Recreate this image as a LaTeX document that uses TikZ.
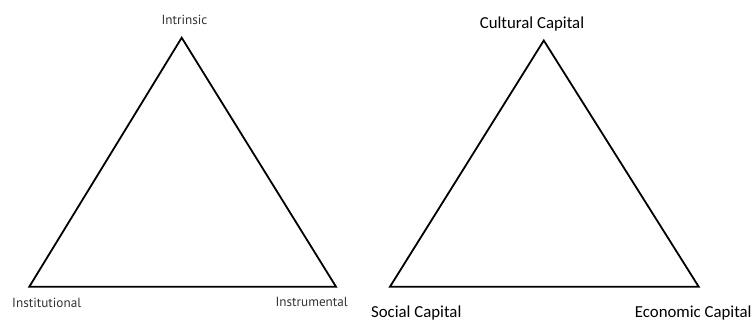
\documentclass[tikz,border=0pt]{standalone}
\usepackage{fontspec}
\newfontfamily\leftfont{PT Sans}
\newfontfamily\rightfont{Carlito}
\begin{document}
\begin{tikzpicture}[x=1pt,y=-1pt,
  tri/.style={line width=1.8pt,line join=miter},
  llab/.style={inner sep=0pt,font=\leftfont\fontsize{13.2}{15}\selectfont,text=black!80},
  rlab/.style={inner sep=0pt,font=\rightfont\fontsize{16.8}{19}\selectfont,text=black}]
\useasboundingbox (0,0) rectangle (753,322);
% left triangle
\coordinate (La) at (181.7,37.7);
\coordinate (Lb) at (29.3,286.7);
\coordinate (Lc) at (336,286.7);
\draw[tri] (La) -- (Lb) -- (Lc) -- cycle;
\node[llab] (intr) at (184.5,20) {Intrinsic};
\node[llab] (inst) at (46.7,302.7) {Institutional};
\node[llab] (instr) at (311.7,301.7) {Instrumental};
% right triangle
\coordinate (Ra) at (543.8,40.5);
\coordinate (Rb) at (390,286.7);
\coordinate (Rc) at (698.7,286.7);
\draw[tri] (Ra) -- (Rb) -- (Rc) -- cycle;
\node[rlab] (cult) at (532,24.5) {Cultural Capital};
\node[rlab] (soc) at (416.3,313.5) {Social Capital};
\node[rlab] (econ) at (693.3,313.5) {Economic Capital};
\end{tikzpicture}
\end{document}
